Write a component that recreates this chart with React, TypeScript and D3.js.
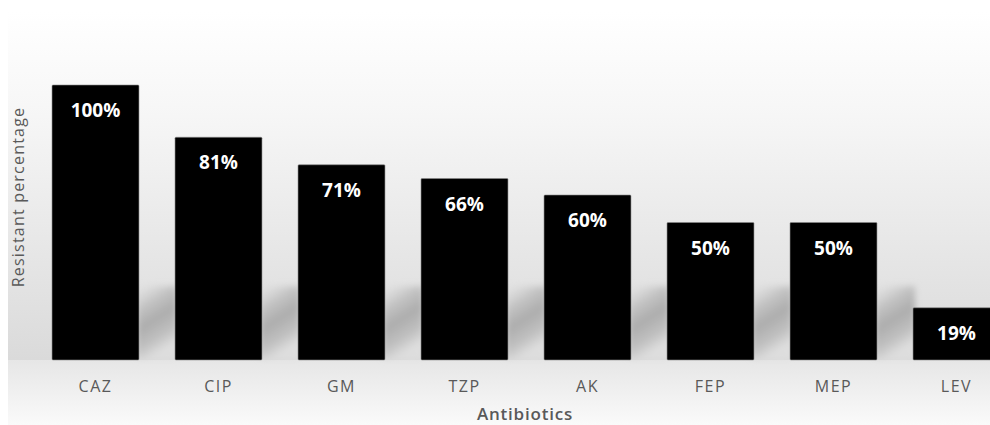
import React from 'react';
import * as d3 from 'd3';

const categories = ['CAZ', 'CIP', 'GM', 'TZP', 'AK', 'FEP', 'MEP', 'LEV'];
const values = [100, 81, 71, 66, 60, 50, 50, 19];
const xTitle = 'Antibiotics';
const yTitle = 'Resistant percentage';

const W = 990;
const H = 425;
const baseY = 360;

export default function App() {
  const x = d3.scaleBand<string>().domain(categories).range([34, 1018]).paddingInner(0.293).paddingOuter(0.1465);
  const y = d3.scaleLinear().domain([0, 100]).range([baseY, 85]);
  const font = "'Open Sans', 'DejaVu Sans', sans-serif";
  const bw = x.bandwidth();
  const gap = x.step() - bw;
  return (
    <div style={{ position: 'fixed', left: 0, top: 0, width: W, height: H, background: '#fff' }}>
      <svg width={W} height={H} style={{ display: 'block' }}>
        <defs>
          <linearGradient id="bgTop" x1="0" y1="0" x2="0" y2="1">
            <stop offset="0" stopColor="#ffffff" />
            <stop offset="0.3" stopColor="#f6f6f6" />
            <stop offset="1" stopColor="#dadada" />
          </linearGradient>
          <linearGradient id="bgBot" x1="0" y1="0" x2="0" y2="1">
            <stop offset="0" stopColor="#e6e6e6" />
            <stop offset="1" stopColor="#fafafa" />
          </linearGradient>
          <linearGradient id="shadow" x1="0" y1="0" x2="0.35" y2="1">
            <stop offset="0" stopColor="#dadada" stopOpacity="0" />
            <stop offset="0.3" stopColor="#c4c4c4" />
            <stop offset="0.55" stopColor="#adadad" />
            <stop offset="0.8" stopColor="#c0c0c0" />
            <stop offset="1" stopColor="#dedede" />
          </linearGradient>
          <filter id="blur" x="-30%" y="-30%" width="160%" height="160%">
            <feGaussianBlur stdDeviation="3" />
          </filter>
        </defs>
        <rect x={8} y={12} width={W - 8} height={baseY - 12} fill="url(#bgTop)" />
        <rect x={8} y={baseY} width={W - 8} height={H - baseY} fill="url(#bgBot)" />
        <g filter="url(#blur)">
          {categories.map((c, i) => (
            <rect key={c} x={x(c)! + bw - 2} y={Math.max(y(values[i]), 286)} width={gap + 4}
              height={baseY - 2 - Math.max(y(values[i]), 286)} fill="url(#shadow)" />
          ))}
        </g>
        {categories.map((c, i) => (
          <rect key={c} x={x(c)} y={y(values[i])} width={bw} height={baseY - y(values[i])}
            fill="#000" stroke="#8a8a8a" strokeWidth={0.6} rx={1} />
        ))}
        {categories.map((c, i) => (
          <text key={c} x={x(c)! + bw / 2} y={y(values[i]) + 32} textAnchor="middle"
            fontFamily={font} fontWeight={700} fontSize={19} fill="#fff">
            {values[i] + '%'}
          </text>
        ))}
        {categories.map(c => (
          <text key={c} x={x(c)! + bw / 2} y={392} textAnchor="middle"
            fontFamily={font} fontSize={16} fill="#595959" letterSpacing={1.5}>
            {c}
          </text>
        ))}
        <text x={525} y={420} textAnchor="middle" fontFamily={font} fontWeight={600} fontSize={17}
          fill="#595959" letterSpacing={0.8}>
          {xTitle}
        </text>
        <text transform={`translate(24,197) rotate(-90)`} textAnchor="middle" fontFamily={font}
          fontSize={16} fill="#595959" letterSpacing={1.2}>
          {yTitle}
        </text>
      </svg>
    </div>
  );
}
